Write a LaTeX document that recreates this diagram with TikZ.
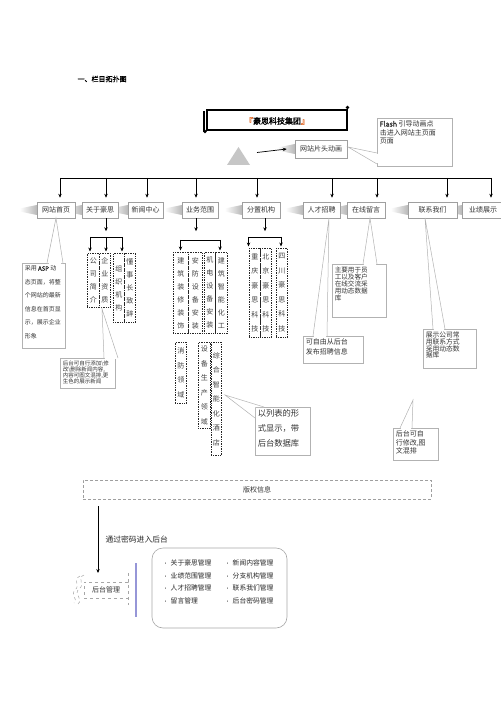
\documentclass[tikz,border=0pt]{standalone}
\usepackage{fontspec}
\setmainfont{Noto Sans CJK SC}[AutoFakeBold=2]
\usetikzlibrary{arrows.meta,calc,backgrounds}
\definecolor{bl}{RGB}{150,150,215}
\definecolor{brk}{RGB}{225,105,40}
\newcommand\mycbox[3]{\parbox[c][#2][t]{#1}{\raggedright #3}}
\newcommand\fs[2]{\fontsize{#1}{#2}\selectfont}
\newcommand\myptr[3]{%
  \fill[white] (#1) -- (#2) -- (#3) -- cycle;
  \draw[white,line width=1pt] ($(#2)!0.1!(#3)$) -- ($(#3)!0.1!(#2)$);
  \draw[ptr] (#2) -- (#1) -- (#3);}
\newcommand\mywedge[1]{%
  \shade[left color=white,right color=gray!55] ($(#1.west)+(-17,-1.5)$) -- ($(#1.west)+(0,-5)$) -- ($(#1.west)+(0,5)$) -- ($(#1.west)+(-17,1.5)$) -- cycle;}
\begin{document}
\begin{tikzpicture}[x=1pt,y=-1pt,
 arr/.style={-{Stealth[length=4pt,width=3.4pt]}, line width=0.7pt},
 navbox/.style={draw=gray!75, line width=0.5pt, fill=white, minimum height=16pt, inner sep=1pt, font=\fs{7}{8}, text=black!80},
 vbox/.style={draw=black!85, densely dotted, line width=0.7pt, anchor=north west, align=center, inner sep=0pt, font=\fs{7}{13}, text=black!75},
 vboxb/.style={vbox, font=\fs{7}{14.5}},
 callout/.style={draw=gray!60, line width=0.5pt, fill=white, anchor=north west, inner sep=2.5pt, text=black!80},
 ptr/.style={draw=gray!60, line width=0.5pt},
 item/.style={anchor=west, font=\fs{6.8}{8}, text=black!85, inner sep=0pt},
]
\useasboundingbox (0,0) rectangle (500,708);

% heading
\node[anchor=west, font=\fs{7}{8}\bfseries] (head) at (74,79) {一、栏目拓扑图};

% title scroll
\draw[line width=1.4pt] (207,110) rectangle (347,130);
\draw[line width=1.2pt] (204,111) -- (204,132);
\draw[line width=1.2pt] (347.5,107) -- (347.5,128);
\fill (205,131.5) circle (1.8);
\fill (347.5,107.5) circle (1.8);
\node[font=\fs{8}{9}\bfseries] (title) at (277,121) {\textcolor{brk}{『}豪思科技集团\textcolor{brk}{』}};

% triangle and intro
\fill[gray!45] (227,165) -- (250,165) -- (238.5,147) -- cycle;
\coordinate (tri) at (257,152.5);
\node[navbox, minimum width=52pt, minimum height=18pt] (intro) at (321,149) {网站片头动画};
\begin{scope}[on background layer]\mywedge{intro}\end{scope}
\draw[arr] (tri) -- ($(intro.west)+(-8,0)$);

% flash callout
\node[callout, font=\fs{7}{8.5}] (flash) at (377,118) {\mycbox{70pt}{43pt}{\textbf{Flash} 引导动画点\\击进入网站主页面\\页面}};
\fill[white] (348,147) -- (377,153) -- (377,164) -- cycle;
\draw[white,line width=1pt] (377,154) -- (377,163);
\draw[ptr] (377,153) -- (348,147) -- (377,164);

% navigation boxes
\node[navbox, minimum width=38pt] (n1) at (56,210) {网站首页};
\node[navbox, minimum width=36pt] (n2) at (100,210) {关于豪思};
\node[navbox, minimum width=35pt] (n3) at (145.5,210) {新闻中心};
\node[navbox, minimum width=36pt] (n4) at (200,210) {业务范围};
\node[navbox, minimum width=38pt] (n5) at (261,210) {分置机构};
\node[navbox, minimum width=37pt] (n6) at (321.5,210) {人才招聘};
\node[navbox, minimum width=38pt] (n7) at (366,210) {在线留言};
\node[navbox, minimum width=49pt] (n8) at (432.5,210) {联系我们};
\node[navbox, minimum width=42pt] (n9) at (483,210) {业绩展示};
\begin{scope}[on background layer]
\foreach \n in {n1,n2,n3,n4,n5,n6,n7,n8,n9} {\mywedge{\n}}
\end{scope}

% bus
\draw[line width=0.7pt] (60,178) -- (492,178);
\foreach \x/\n in {60/n1,106/n2,147/n3,196/n4,257/n5,332/n6,377/n7,447/n8,491/n9} {
  \coordinate (t\n) at (\x,178);
  \draw[arr, shorten >=4pt] (t\n) -- (t\n |- \n.north);
}

% 关于豪思 column
\draw[arr] ($(n2.south)+(6,0)$) -- ++(0,13);
\node[vbox, minimum width=12pt, minimum height=54pt] (a1) at (87,253) {公\\司\\简\\介};
\node[vbox, minimum width=11pt, minimum height=54pt] (a2) at (99,253) {企\\业\\资\\质};
\node[vbox, minimum width=11pt, minimum height=69pt] (a3) at (113,253) {组\\织\\机\\构};
\node[vbox, minimum width=11pt, minimum height=69pt] (a4) at (124,253) {懂\\事\\长\\致\\辞};
\draw[line width=0.7pt] (90,237) -- (122,237);
\foreach \x in {90,106,122} {\draw[arr, shorten >=1.5pt] (\x,237) -- (a1.north -| \x,237);}

% 业务范围 column
\draw[arr] ($(n4.south)+(-4,0)$) -- ++(0,13);
\node[vbox, minimum width=15pt, minimum height=81pt] (b1) at (173,252) {建\\筑\\装\\修\\装\\饰};
\node[vbox, minimum width=14pt, minimum height=81pt] (b2) at (188,252) {安\\防\\设\\备\\安\\装};
\node[vbox, minimum width=11pt, minimum height=81pt] (b3) at (204,252) {机\\电\\设\\备\\安\\装};
\node[vbox, minimum width=12pt, minimum height=81pt] (b4) at (215,252) {建\\筑\\智\\能\\化\\工};
\node[vboxb, minimum width=11pt, minimum height=61pt] (b5) at (175,342) {消\\防\\领\\域};
\node[vboxb, minimum width=12pt, minimum height=86pt] (b6) at (198,342) {设\\备\\生\\产\\领\\域};
\node[vboxb, minimum width=10pt, minimum height=113pt] (b7) at (211,342) {综\\合\\智\\能\\化\\酒\\店};
\draw[line width=0.7pt] (180.5,240) -- (220,240);
\foreach \x in {180.5,220} {\draw[arr, shorten >=1.5pt] (\x,240) -- (b1.north -| \x,240);}

% 分置机构 column
\draw[arr] ($(n5.south)+(4,0)$) -- ++(0,13);
\node[vboxb, minimum width=11pt, minimum height=89pt] (c1) at (249,248) {重\\庆\\豪\\思\\科\\技};
\node[vboxb, minimum width=11pt, minimum height=89pt] (c2) at (260,248) {北\\京\\豪\\思\\科\\技};
\node[vboxb, minimum width=11pt, minimum height=89pt] (c3) at (276,248) {四\\川\\豪\\思\\科\\技};
\draw[line width=0.7pt] (248.5,237) -- (281,237);
\foreach \x in {248.5,281} {\draw[arr, shorten >=1.5pt] (\x,237) -- (c1.north -| \x,237);}

% callouts
\node[callout, font=\fs{6}{13.5}] (cA) at (22,263) {\mycbox{38pt}{80pt}{采用 \textbf{ASP} 动\\态页面，将整\\个网站的最新\\信息在首页显\\示，展示企业\\形象}};
\myptr{56,218}{47,263}{63,263}

\node[callout, font=\fs{5.5}{6}] (cB) at (60,358) {\mycbox{50pt}{25pt}{后台可自行添加\textbackslash 修\\改\textbackslash 删除新闻内容,\\内容可图文混排,更\\生色的展示新闻}};
\myptr{102,309}{104,358}{118,358}

\node[callout, font=\fs{8.3}{15}] (cC) at (255,407) {\mycbox{50pt}{43pt}{以列表的形\\式显示，带\\后台数据库}};
\fill[white] (225,395) -- (255,418) -- (255,407) -- (264,407) -- cycle;
\draw[ptr] (255,418) -- (225,395) -- (264,407);

\node[callout, font=\fs{7}{9.5}] (cD) at (303,336) {\mycbox{55pt}{22pt}{可自由从后台\\发布招聘信息}};
\myptr{329,218}{313,336}{327,336}

\node[callout, font=\fs{6.6}{7}] (cE) at (332,264) {\mycbox{49pt}{48pt}{主要用于员\\工以及客户\\在线交流采\\用动态数据\\库}};
\myptr{370,218}{363,264}{377,264}

\node[callout, font=\fs{6.8}{6.8}] (cF) at (423,329) {\mycbox{48pt}{34pt}{展示公司常\\用联系方式\\采用动态数\\据库}};
\myptr{425,218}{433,329}{445,329}

\node[callout, font=\fs{7}{8.5}] (cG) at (393,428) {\mycbox{40pt}{27pt}{后台可自\\行修改,图\\文混排}};
\myptr{413,400}{400,428}{412,428}

% copyright
\node[draw=gray!75, dash pattern=on 3pt off 2pt, line width=0.6pt, minimum width=348pt, minimum height=19pt, font=\fs{7}{8}, text=black!80] (cp) at (257,489.5) {版权信息};

% backend
\coordinate (bs) at (98,506);
\coordinate (be) at (98,573);
\draw[arr] (bs) -- (be);
\node[anchor=west, font=\fs{7.8}{9}, text=black!85] (pw) at (102,539) {通过密码进入后台};
\node[draw=gray!70, dashed, line width=0.5pt, minimum width=44pt, minimum height=16pt, font=\fs{7}{8}, text=black!80] (bm) at (106,590) {后台管理};
\draw[gray!70, dashed, line width=0.5pt] ($(bm.north east)+(0,-9)$) -- ($(bm.south east)+(0,7)$);
\draw[gray!70, dashed, line width=0.5pt] (84,575) .. controls (76,578) and (86,584) .. (79,589) .. controls (73,594) and (84,599) .. (78,604);
\draw[gray!70, dashed, line width=0.5pt] (80,576) .. controls (72,580) and (81,585) .. (75,590) .. controls (70,595) and (79,600) .. (74,603);
\draw[bl, line width=1.1pt] (136,563) -- (136,617);

\node[draw=gray!70, line width=0.6pt, rounded corners=11pt, minimum width=135pt, minimum height=80pt] (mg) at (219.5,588) {};
\node[item] (m1) at (163,563) {{\fs{5}{6}•}\hspace{2.5pt}关于豪思管理};
\node[item] (m2) at (163,575.5) {{\fs{5}{6}•}\hspace{2.5pt}业绩范围管理};
\node[item] (m3) at (163,588) {{\fs{5}{6}•}\hspace{2.5pt}人才招聘管理};
\node[item] (m4) at (163,601) {{\fs{5}{6}•}\hspace{2.5pt}留言管理};
\node[item] (m5) at (225,563) {{\fs{5}{6}•}\hspace{2.5pt}新闻内容管理};
\node[item] (m6) at (225,575.5) {{\fs{5}{6}•}\hspace{2.5pt}分支机构管理};
\node[item] (m7) at (225,588) {{\fs{5}{6}•}\hspace{2.5pt}联系我们管理};
\node[item] (m8) at (225,601) {{\fs{5}{6}•}\hspace{2.5pt}后台密码管理};
\end{tikzpicture}
\end{document}
